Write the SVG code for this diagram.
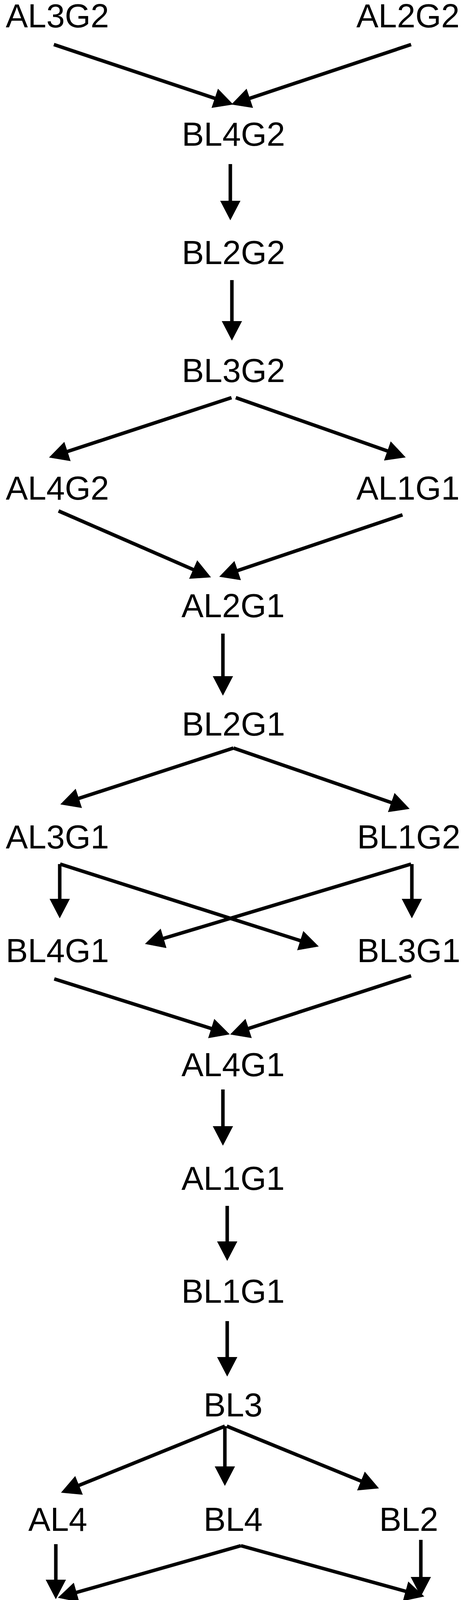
<svg xmlns="http://www.w3.org/2000/svg" width="1186" height="5095" viewBox="0 0 1186 5095">
<style>
text{font-family:"Liberation Sans",Arial,sans-serif;font-size:85px;fill:#000;text-anchor:middle}
.e line{stroke:#000;stroke-width:9;marker-end:url(#ah)}
</style>
<defs><marker id="ah" markerUnits="userSpaceOnUse" markerWidth="52" markerHeight="54" refX="20" refY="26" orient="auto"><path d="M0,0 L50,26 L0,52 z" fill="#000"/></marker></defs>
<rect width="1186" height="5095" fill="#fff"/>
<g id="AL3G2"><text x="147" y="70">AL3G2</text></g>
<g id="AL2G2"><text x="1045" y="70">AL2G2</text></g>
<g id="BL4G2"><text x="598" y="373">BL4G2</text></g>
<g id="BL2G2"><text x="598" y="676">BL2G2</text></g>
<g id="BL3G2"><text x="598" y="978">BL3G2</text></g>
<g id="AL4G2"><text x="147" y="1279">AL4G2</text></g>
<g id="AL1G1a"><text x="1045" y="1279">AL1G1</text></g>
<g id="AL2G1"><text x="597" y="1580">AL2G1</text></g>
<g id="BL2G1"><text x="598" y="1883">BL2G1</text></g>
<g id="AL3G1"><text x="147" y="2172">AL3G1</text></g>
<g id="BL1G2"><text x="1047" y="2172">BL1G2</text></g>
<g id="BL4G1"><text x="147" y="2463">BL4G1</text></g>
<g id="BL3G1"><text x="1047" y="2463">BL3G1</text></g>
<g id="AL4G1"><text x="597" y="2755">AL4G1</text></g>
<g id="AL1G1b"><text x="597" y="3046">AL1G1</text></g>
<g id="BL1G1"><text x="597" y="3335">BL1G1</text></g>
<g id="BL3"><text x="597" y="3626">BL3</text></g>
<g id="AL4"><text x="148" y="3919">AL4</text></g>
<g id="BL4"><text x="597" y="3919">BL4</text></g>
<g id="BL2"><text x="1047" y="3919">BL2</text></g>
<g id="BL1"><text x="148" y="4209">BL1</text></g>
<g id="B"><text x="1050" y="4209">B</text></g>
<g id="AL3"><text x="148" y="4500">AL3</text></g>
<g id="AL1"><text x="1045" y="4500">AL1</text></g>
<g id="AL2"><text x="597" y="4790">AL2</text></g>
<g id="A"><text x="602" y="5082">A</text></g>
<g class="e" id="connectors">
<line x1="138" y1="114" x2="569" y2="258"/>
<line x1="1053" y1="114" x2="621" y2="258"/>
<line x1="590" y1="420" x2="590" y2="534"/>
<line x1="594" y1="717" x2="594" y2="842"/>
<line x1="593" y1="1018" x2="154" y2="1162"/>
<line x1="604" y1="1018" x2="1011" y2="1161"/>
<line x1="150" y1="1308" x2="513" y2="1466"/>
<line x1="1031" y1="1318" x2="590" y2="1467"/>
<line x1="571" y1="1622" x2="571" y2="1751"/>
<line x1="598" y1="1915" x2="183" y2="2050"/>
<line x1="598" y1="1915" x2="1021" y2="2061"/>
<line x1="153" y1="2212" x2="153" y2="2321"/>
<line x1="154" y1="2212" x2="788" y2="2414"/>
<line x1="1055" y1="2212" x2="1055" y2="2321"/>
<line x1="1053" y1="2212" x2="400" y2="2408"/>
<line x1="139" y1="2506" x2="560" y2="2639"/>
<line x1="1053" y1="2498" x2="618" y2="2639"/>
<line x1="571" y1="2789" x2="571" y2="2903"/>
<line x1="582" y1="3087" x2="582" y2="3198"/>
<line x1="582" y1="3382" x2="582" y2="3494"/>
<line x1="576" y1="3651" x2="184" y2="3810"/>
<line x1="576" y1="3651" x2="576" y2="3774"/>
<line x1="581" y1="3651" x2="943" y2="3799"/>
<line x1="143" y1="3953" x2="143" y2="4064"/>
<line x1="617" y1="3957" x2="177" y2="4082"/>
<line x1="617" y1="3957" x2="1058" y2="4079"/>
<line x1="1078" y1="3942" x2="1078" y2="4057"/>
<line x1="171" y1="4244" x2="171" y2="4354"/>
<line x1="171" y1="4244" x2="1000" y2="4390"/>
<line x1="1027" y1="4243" x2="1027" y2="4354"/>
<line x1="1026" y1="4243" x2="209" y2="4379"/>
<line x1="167" y1="4532" x2="561" y2="4679"/>
<line x1="1037" y1="4532" x2="617" y2="4679"/>
<line x1="587" y1="4831" x2="587" y2="4943"/>
</g>
</svg>
